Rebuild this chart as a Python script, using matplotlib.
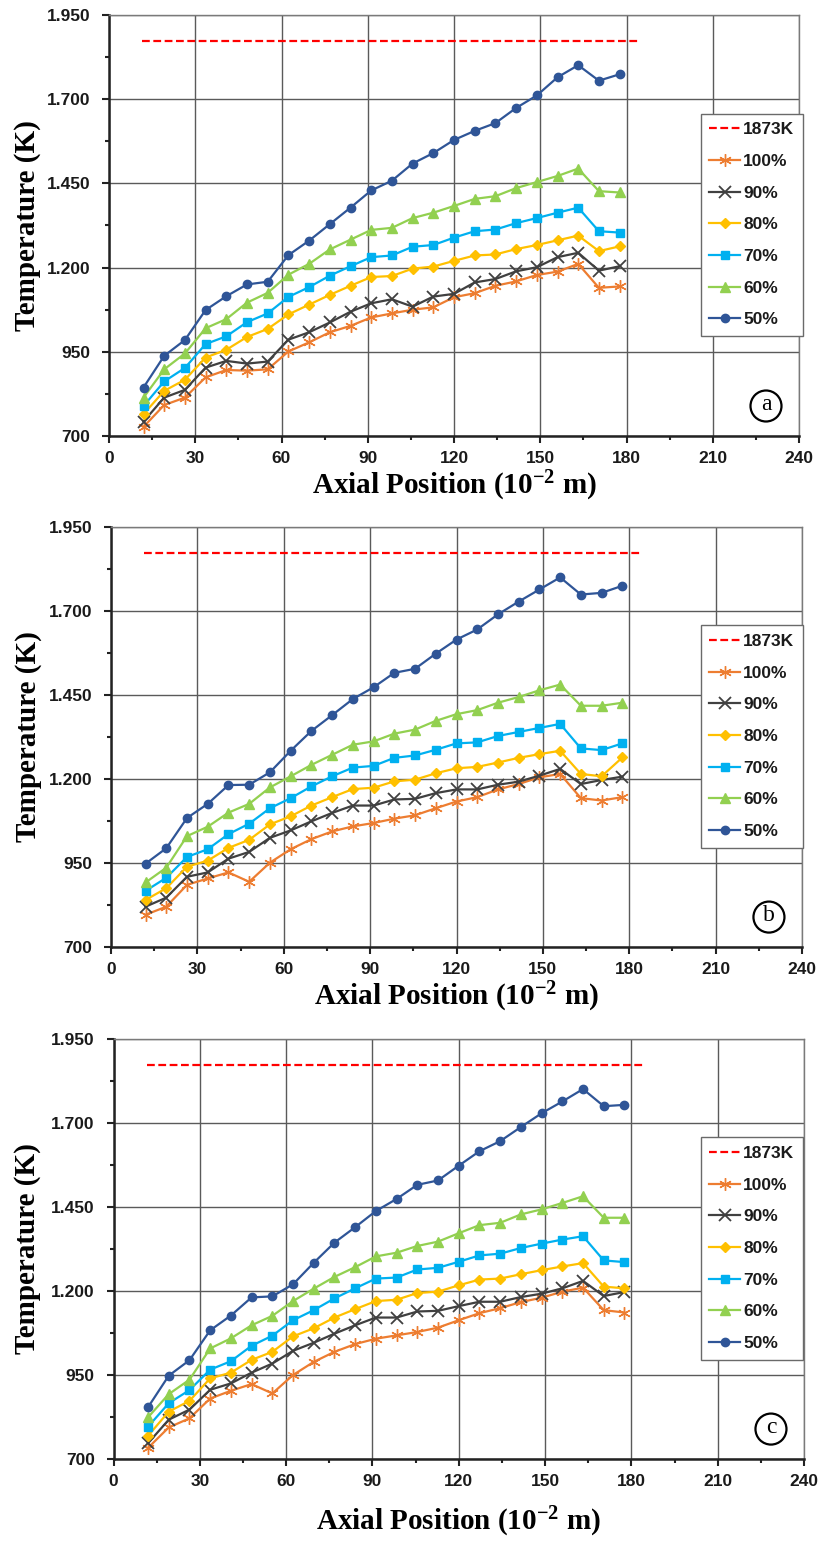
import matplotlib
matplotlib.use("Agg")
import matplotlib.pyplot as plt
from matplotlib.ticker import FixedLocator, MultipleLocator, FuncFormatter
from matplotlib.patches import Ellipse

# ---------------- data ----------------
axial_pos = [12.0, 19.2, 26.4, 33.6, 40.8, 48.0, 55.2, 62.4, 69.6, 76.8, 84.0, 91.2,
             98.4, 105.6, 112.8, 120.0, 127.2, 134.4, 141.6, 148.8, 156.0, 163.2, 170.4, 177.6]
ref_x = [11.5, 184.5]
ref_y = [1873, 1873]
labels = ["100%", "90%", "80%", "70%", "60%", "50%"]
y_major = [700, 950, 1200, 1450, 1700, 1950]
y_minor = [825, 1075, 1325, 1575, 1825]

# panel (a)
a_100 = [727, 792, 814, 874, 896, 894, 898, 951, 978, 1008, 1027, 1052, 1064, 1075, 1082, 1112, 1124, 1146, 1159, 1178, 1188, 1211, 1140, 1144]
a_90 = [743, 814, 837, 903, 923, 915, 921, 986, 1008, 1037, 1069, 1094, 1106, 1084, 1114, 1122, 1156, 1166, 1189, 1201, 1231, 1244, 1191, 1204]
a_80 = [765, 834, 867, 933, 956, 994, 1018, 1061, 1090, 1119, 1146, 1172, 1175, 1197, 1203, 1220, 1236, 1239, 1255, 1267, 1281, 1295, 1249, 1263]
a_70 = [789, 862, 902, 973, 996, 1038, 1064, 1113, 1142, 1176, 1204, 1231, 1236, 1262, 1267, 1289, 1308, 1313, 1332, 1347, 1363, 1378, 1308, 1304]
a_60 = [814, 898, 945, 1020, 1047, 1096, 1125, 1179, 1211, 1254, 1283, 1312, 1318, 1347, 1363, 1383, 1404, 1412, 1436, 1454, 1472, 1494, 1427, 1423]
a_50 = [844, 938, 985, 1074, 1115, 1150, 1158, 1237, 1280, 1329, 1378, 1429, 1458, 1509, 1540, 1579, 1606, 1629, 1674, 1711, 1765, 1801, 1755, 1774]

# panel (b)
b_100 = [796, 820, 885, 904, 922, 894, 951, 991, 1021, 1044, 1059, 1069, 1082, 1092, 1113, 1133, 1146, 1169, 1185, 1205, 1215, 1143, 1136, 1146]
b_90 = [820, 847, 909, 922, 963, 983, 1025, 1047, 1074, 1099, 1121, 1121, 1139, 1141, 1158, 1169, 1169, 1183, 1192, 1210, 1230, 1185, 1197, 1207]
b_80 = [840, 875, 939, 957, 995, 1019, 1065, 1089, 1121, 1146, 1170, 1174, 1193, 1198, 1217, 1232, 1236, 1249, 1263, 1274, 1284, 1215, 1208, 1264]
b_70 = [867, 906, 968, 991, 1036, 1067, 1113, 1143, 1178, 1208, 1234, 1239, 1263, 1270, 1287, 1306, 1309, 1328, 1340, 1352, 1364, 1291, 1286, 1306]
b_60 = [892, 936, 1030, 1058, 1100, 1126, 1175, 1208, 1242, 1272, 1302, 1312, 1335, 1347, 1373, 1393, 1405, 1427, 1444, 1464, 1481, 1418, 1418, 1427]
b_50 = [948, 994, 1084, 1126, 1182, 1183, 1220, 1284, 1343, 1390, 1438, 1473, 1516, 1528, 1573, 1615, 1645, 1690, 1728, 1764, 1800, 1749, 1754, 1775]

# panel (c)
c_100 = [733, 794, 821, 880, 903, 923, 895, 950, 989, 1019, 1042, 1058, 1068, 1078, 1091, 1113, 1134, 1149, 1167, 1180, 1198, 1210, 1143, 1136]
c_90 = [747, 817, 847, 906, 925, 957, 984, 1022, 1046, 1073, 1098, 1121, 1121, 1139, 1141, 1155, 1168, 1168, 1182, 1192, 1208, 1230, 1185, 1197]
c_80 = [769, 841, 873, 940, 957, 995, 1019, 1065, 1089, 1121, 1146, 1170, 1174, 1194, 1198, 1217, 1234, 1237, 1250, 1262, 1273, 1283, 1213, 1208]
c_70 = [796, 866, 905, 966, 991, 1037, 1067, 1113, 1143, 1178, 1208, 1237, 1240, 1264, 1269, 1287, 1306, 1311, 1328, 1341, 1353, 1363, 1291, 1286]
c_60 = [824, 893, 936, 1029, 1059, 1098, 1126, 1170, 1207, 1242, 1271, 1303, 1314, 1334, 1347, 1372, 1396, 1403, 1428, 1443, 1462, 1482, 1418, 1418]
c_50 = [854, 948, 994, 1083, 1127, 1181, 1184, 1220, 1284, 1344, 1390, 1438, 1474, 1516, 1529, 1573, 1616, 1646, 1688, 1729, 1764, 1801, 1750, 1754]

panels = [
    ("a", [a_100, a_90, a_80, a_70, a_60, a_50]),
    ("b", [b_100, b_90, b_80, b_70, b_60, b_50]),
    ("c", [c_100, c_90, c_80, c_70, c_60, c_50]),
]

# ---------------- style ----------------
plt.rcParams['font.family'] = ['Liberation Sans', 'DejaVu Sans']
plt.rcParams['font.weight'] = 'bold'
plt.rcParams['mathtext.default'] = 'regular'
W, H = 823, 1544
fig = plt.figure(figsize=(W / 100, H / 100), dpi=100)

colors = ["#ED7D31", "#404040", "#FFC000", "#00B0F0", "#92D050", "#2F5597"]
markers = [(6, 2, 0), "x", "D", "s", "^", "o"]
msizes = [9, 8, 5, 5.5, 6.5, 6]
mews = [1.0, 1.3, 1, 1, 1, 1]

# axes pixel boxes: left, right, top, bottom
boxes = [(109, 799, 15, 436), (111, 802, 527, 947), (113.5, 804, 1039, 1459)]
xlabel_y = [486, 997, 1522]
ylabel_x = [28, 28, 28]

label_font = dict(family="Liberation Serif", weight="bold", size=21)

for (tag, series), (l, r, t, b), xly, ylx in zip(panels, boxes, xlabel_y, ylabel_x):
    ax = fig.add_axes([l / W, (H - b) / H, (r - l) / W, (b - t) / H])
    ax.set_xlim(0, 240)
    ax.set_ylim(700, 1950)
    ax.xaxis.set_major_locator(MultipleLocator(30))
    ax.xaxis.set_minor_locator(MultipleLocator(15))
    ax.yaxis.set_major_locator(FixedLocator(y_major))
    ax.yaxis.set_minor_locator(FixedLocator(y_minor))
    ax.yaxis.set_major_formatter(FuncFormatter(lambda v, p: f"{int(round(v)):,}".replace(",", ".")))
    ax.grid(True, which="major", color="#5a5a5a", linewidth=1.0)
    ax.set_axisbelow(True)
    for s in ("left", "bottom"):
        ax.spines[s].set_color("#222222")
        ax.spines[s].set_linewidth(1.8)
    for s in ("top", "right"):
        ax.spines[s].set_color("#7a7a7a")
        ax.spines[s].set_linewidth(1.0)
    ax.tick_params(which="major", direction="out", length=5, width=1.5, color="#222222",
                   labelsize=12.5, labelcolor="#1a1a1a")
    ax.tick_params(axis="y", which="major", pad=8.5)
    ax.tick_params(axis="x", which="major", pad=6)
    ax.tick_params(which="minor", direction="out", length=3, width=1.5, color="#222222")
    ax.tick_params(top=False, right=False, which="both")

    ax.plot(ref_x, ref_y, color="#FF0000", linestyle=(0, (3.5, 1.6)), linewidth=1.6, label="1873K")
    for ys, lab, c, m, ms, mew in zip(series, labels, colors, markers, msizes, mews):
        ax.plot(axial_pos, ys, color=c, marker=m, markersize=ms, markeredgewidth=mew,
                markeredgecolor=c, markerfacecolor=c, linewidth=1.6, label=lab)

    leg = ax.legend(loc="upper right", bbox_to_anchor=((803 - l) / (r - l), 0.766),
                    borderaxespad=0, frameon=True, fancybox=False, edgecolor="#6a6a6a",
                    prop=dict(family="Liberation Sans", weight="bold", size=12.5),
                    handlelength=1.75, handletextpad=0.2, labelspacing=0.95,
                    borderpad=0.5, framealpha=1)
    leg.get_frame().set_linewidth(1.0)
    for txt in leg.get_texts():
        txt.set_color("#1a1a1a")

    ax.set_xlabel("Axial Position (10$^{-2}$ m)", **label_font)
    ax.xaxis.set_label_coords(0.5, -(xly - b) / (b - t))
    ax.xaxis.label.set_va("center")
    ax.set_ylabel("Temperature (K)", **label_font)
    ax.yaxis.set_label_coords((ylx - l) / (r - l), 0.5)
    ax.yaxis.label.set_va("center")

    # circled panel letter
    cx = (766 - 109) / 690
    cy = (436 - 406) / 421
    rad = 15.5
    ax.add_patch(Ellipse((cx, cy), 2 * rad / (r - l), 2 * rad / (b - t), transform=ax.transAxes,
                         facecolor="white", edgecolor="black", linewidth=1.6, zorder=5))
    ax.text(cx, cy + 0.003, tag, transform=ax.transAxes, ha="center", va="center",
            family="Liberation Serif", weight="normal", size=17, zorder=6)

fig.savefig("out.png", dpi=100)
